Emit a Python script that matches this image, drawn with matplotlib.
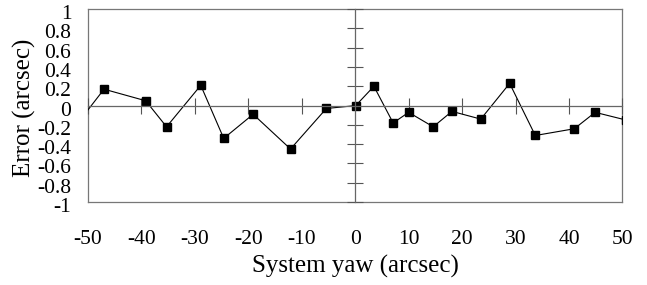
import matplotlib
matplotlib.use("Agg")
import matplotlib.pyplot as plt
import matplotlib.transforms as mtransforms

yaw = [-50.5, -47.0, -39.2, -35.3, -28.9, -24.6, -19.1, -12.1, -5.4, 0.1,
       3.5, 7.1, 10.0, 14.6, 18.1, 23.5, 28.9, 33.7, 41.0, 44.9, 50.7]
err = [-0.08, 0.17, 0.05, -0.22, 0.21, -0.34, -0.09, -0.45, -0.03, 0.0,
       0.20, -0.18, -0.07, -0.22, -0.06, -0.14, 0.23, -0.31, -0.24, -0.07, -0.15]

xticks = [-50, -40, -30, -20, -10, 0, 10, 20, 30, 40, 50]
yticks = [-1, -0.8, -0.6, -0.4, -0.2, 0, 0.2, 0.4, 0.6, 0.8, 1]
ytick_labels = ["-1", "-0.8", "-0.6", "-0.4", "-0.2", "0", "0.2", "0.4", "0.6", "0.8", "1"]

plt.rcParams['font.family'] = ['Liberation Serif', 'DejaVu Serif']

fig = plt.figure(figsize=(6.47, 2.85), dpi=100)
pos = [0.136, 0.291, 0.826, 0.677]
ax = fig.add_axes(pos)
ax.set_xlim(-50, 50)
ax.set_ylim(-1, 1)
for s in ax.spines.values():
    s.set_color('#777777')
    s.set_linewidth(0.9)
ax.set_xticks(xticks)
ax.set_xticklabels([str(t) for t in xticks])
ax.set_yticks(yticks)
ax.set_yticklabels(ytick_labels)
ax.tick_params(axis='x', length=0, pad=20, labelsize=15.5)
ax.tick_params(axis='y', length=0, pad=12, labelsize=15.5)
shift = mtransforms.ScaledTranslation(0, -3 / 100, fig.dpi_scale_trans)
for lab in ax.get_yticklabels():
    lab.set_transform(lab.get_transform() + shift)
ax.set_xlabel("System yaw (arcsec)", fontsize=18, va='center')
ax.xaxis.set_label_coords(0.5, -0.335)
ax.set_ylabel("Error (arcsec)", fontsize=18, va='center')
ax.yaxis.set_label_coords(-0.118, 0.49)

# zero axes with crossing ticks
ax2 = fig.add_axes(pos)
ax2.set_xlim(-50, 50)
ax2.set_ylim(-1, 1)
ax2.patch.set_alpha(0)
ax2.spines['top'].set_visible(False)
ax2.spines['right'].set_visible(False)
ax2.spines['left'].set_position(('data', 0))
ax2.spines['bottom'].set_position(('data', 0))
for k in ('left', 'bottom'):
    ax2.spines[k].set_color('#666666')
    ax2.spines[k].set_linewidth(0.9)
ax2.set_xticks([t for t in xticks if t != 0])
ax2.set_yticks([t for t in yticks if t != 0])
ax2.tick_params(direction='inout', length=11, width=0.8, color='#555555',
                labelbottom=False, labelleft=False)

ax2.plot(yaw, err, color='black', linewidth=0.8, marker='s', markersize=6.2,
         markerfacecolor='black', markeredgecolor='black', markevery=slice(1, None))

fig.savefig("out.png", dpi=100)
